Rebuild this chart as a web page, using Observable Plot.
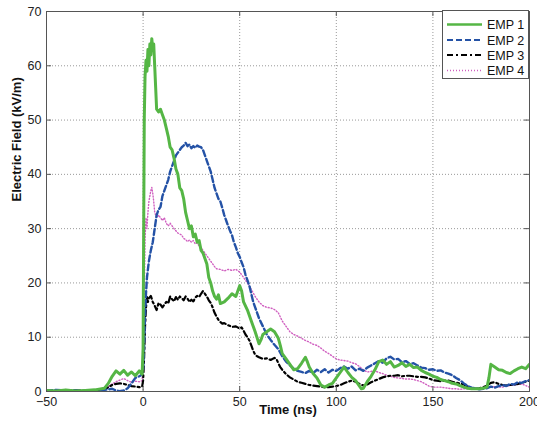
<!DOCTYPE html>
<html>
<head>
<meta charset="utf-8">
<script src="https://cdn.jsdelivr.net/npm/d3@7"></script>
<script src="https://cdn.jsdelivr.net/npm/@observablehq/plot@0.6"></script>
<style>
  html, body { margin: 0; padding: 0; background: white; }
  #wrap { position: relative; width: 537px; height: 423px; font-family: "Liberation Sans", Arial, sans-serif; }
  #legend { position: absolute; left: 442px; top: 10px; }
</style>
</head>
<body>
<div id="wrap"></div>
<script>
// ---- Data ----
const xTicks = [-50, 0, 50, 100, 150, 200];
const yTicks = [0, 10, 20, 30, 40, 50, 60, 70];
const seriesNames = ["EMP 1", "EMP 2", "EMP 3", "EMP 4"];

const emp1T = [-50,-45,-40,-35,-30,-25,-20,-18,-16,-14,-12,-10,-8,-6,-4,-2,-0.5,0,0.3,0.6,1,1.5,2,2.5,3,3.5,4,4.5,5,5.5,6,6.5,7,8,9,10,11,12,13,14,15,16,17,18,19,20,21,22,23,24,25,26,27,28,29,30,31,32,33,34,35,36,37,38,39,40,42,44,46,48,50,51,52,54,56,58,60,61,62,64,66,68,70,71,72,74,76,78,80,82,84,85,86,88,90,92,94,96,98,100,102,104,106,108,110,112,113,114,116,118,120,122,124,126,128,130,132,134,136,138,140,142,144,146,148,150,152,154,156,158,160,162,164,166,168,170,172,174,176,178,179,180,182,184,186,188,190,192,194,196,198,200];
const emp1V = [0.2,0.1,0.3,0.1,0.2,0.3,0.6,1.5,2.8,3.8,3.2,3.9,3.0,3.6,2.9,3.8,3.2,8,30,50,58,61,59,63,60,64,62,65,63,64,60,56,52,51.5,52,51,50,48.5,47,45,44.5,43,41,40,37.5,37,35.5,33,31.5,30,30.5,28.5,29,27.5,27.8,26,25.5,24.5,23.5,21,20,18.5,17.5,17,17.8,16.2,16.5,17.2,18,17.5,19.5,18.5,16.5,15,13,11,8.8,9.5,10.5,11,11.5,11,9.8,8.5,7,6,5,4,4.2,5.2,6.3,5.5,4.5,3.3,2.5,1.2,0.8,1.2,1.5,2.5,3.5,4.5,3.5,2.6,2,1,0.5,0.6,1.8,2.8,4,5.5,5.8,5,5.5,4.5,4.8,5.3,4.6,5,4.4,4.5,3.9,3.5,3.2,2.8,2.6,2.2,2,1.8,1.5,1.4,1.1,0.8,0.6,0.5,0.5,0.5,0.6,0.8,2.5,5,4.5,4,3.9,3.5,3.3,3.8,4.2,4.5,4.2,5];

const emp2T = [-50,-45,-40,-35,-30,-25,-20,-16,-14,-12,-10,-8,-6,-4,-2,-1,0,0.5,1,1.5,2,3,4,5,6,7,8,9,10,11,12,13,14,15,16,17,18,19,20,21,22,23,24,25,26,27,28,29,30,31,32,33,34,35,36,37,38,39,40,41,42,43,44,45,46,47,48,49,50,51,52,53,54,55,56,57,58,59,60,62,64,66,68,70,72,74,76,78,80,82,84,86,88,90,92,94,96,98,100,102,104,106,108,110,112,114,116,118,120,122,124,126,128,130,132,134,136,138,140,142,144,146,148,150,152,154,156,158,160,162,164,166,168,170,172,174,176,178,180,182,184,186,188,190,192,194,196,198,200];
const emp2V = [0.1,0.3,0.2,0.2,0.1,0.2,0.3,0.5,0.2,0.05,0.2,0.6,1.5,2.5,2.8,3,4,8,14,18,21,24,26,27.5,30,32.5,33.5,34,36,37,38,39,40.5,41.5,42.5,43.5,44,44.5,45,45.3,45.8,45.2,45.5,44.8,45.2,44.9,45.3,45.1,45,44.5,43.5,42.5,41.5,40.5,39,37.5,36.5,35.5,35,33.8,32.5,31.5,30.5,29.6,28.8,27.5,26.6,25.5,24.8,23.8,22.9,21.5,20.5,19.5,18,16.5,15.5,14.5,13.5,12,10.5,9.5,8.6,7.8,6.5,5.5,4.8,4.2,3.8,3.6,3.4,3.8,3.4,4,3.6,4.1,3.5,4,3.8,4.3,4.6,4.2,4.6,3.9,4.2,3.8,4.4,4.8,5.2,5.6,5.3,6.1,6.4,5.9,6,5.4,5.6,5.1,5.2,4.8,4.4,4.3,4,4.1,3.8,3.9,3.5,3.3,3,2.5,2.1,1.5,1,0.7,0.6,0.4,0.5,0.6,0.9,0.7,1,1.2,1,1.4,1.3,1.7,1.6,1.9,2.1];

const emp3T = [-50,-45,-40,-35,-30,-25,-20,-18,-16,-14,-12,-10,-8,-6,-4,-2,-0.5,0,0.5,1,1.5,2,2.5,3,4,5,6,7,8,9,10,11,12,13,14,15,16,17,18,19,20,21,22,23,24,25,26,27,28,29,30,31,32,33,34,35,36,37,38,39,40,41,42,44,46,48,50,51,52,53,54,55,56,57,58,59,60,62,64,66,68,69,70,71,72,74,76,78,80,82,84,86,88,90,92,94,96,98,100,102,104,106,108,110,112,114,116,118,120,122,124,126,128,130,132,134,136,138,140,142,144,146,148,150,152,154,156,158,160,162,164,166,168,170,172,174,176,178,180,182,184,186,188,190,192,194,196,198,200];
const emp3V = [0.1,0.2,0.1,0.2,0.1,0.2,0.4,0.8,1.2,1.4,1.5,1.4,1.2,1,0.9,0.8,0.9,2,6,12,15.5,17.4,16.5,17.2,17.6,16.5,15.8,15,16.3,16,15.5,16,16.5,16.2,17.5,17,16.6,17.4,16.9,17.5,17.2,16.8,17.5,17.1,16.5,16.9,16.6,17.3,17.6,17.4,18,18.5,18,17.5,16.8,16.3,15.5,14.5,13.8,13.2,12.8,12.5,12.6,12.2,11.9,12,11.6,11.8,11.2,10.5,10,9.4,8.5,7.5,6.8,6.5,6.3,6,6.1,5.8,6.2,6,5.2,4.5,4,3.2,2.6,2.2,1.8,1.6,1.4,1.2,1.1,1,0.9,0.8,0.8,0.9,1,1.2,1.5,1.8,2,1.8,1.4,1.1,1.3,1.7,2,2.3,2.6,2.8,2.9,2.9,3,2.8,2.9,2.9,2.8,2.7,2.7,2.6,2.4,2.1,2,1.9,2,2,1.8,1.6,1.5,1.3,0.9,0.6,0.5,0.6,0.8,1.1,1.6,1.7,1.4,1.2,1.1,1.2,1.3,1.4,1.6,1.8,2];

const emp4T = [-50,-45,-40,-35,-30,-25,-20,-18,-16,-14,-12,-10,-8,-6,-4,-2,-0.5,0,0.5,1,1.5,2,2.5,3,3.5,4,4.5,5,5.5,6,7,8,9,10,11,12,13,14,15,16,17,18,19,20,21,22,23,24,25,26,27,28,29,30,31,32,33,34,35,36,37,38,40,42,44,46,48,50,52,54,56,58,60,62,64,66,68,70,72,74,76,78,80,82,84,86,88,90,92,94,96,98,100,102,104,106,108,110,112,114,116,118,120,122,124,126,128,130,132,134,136,138,140,142,144,146,148,150,152,154,156,158,160,162,164,166,168,170,172,174,176,178,180,182,184,186,188,190,192,194,196,198,200];
const emp4V = [0.2,0.1,0.2,0.3,0.1,0.2,0.5,0.9,1.4,1.8,2.1,2.4,2.0,1.7,1.9,1.8,2,5,15,28,32,30,33,35,36,37,37.6,36.5,35,33,32,32.5,32,31.5,32,31,30.5,31,30.5,30,29.6,29.2,29,28.8,28.2,28,27.6,27.9,27.5,27.8,27.2,27.4,26.8,26.5,26,25.5,25,24.5,24,23.5,23,22.6,22.5,22.2,22.5,22.3,22.5,22,21,20,18.8,17.5,16.5,15.8,15.5,15.4,15.1,14.5,13,12,11,10.5,10.2,9.8,9.4,9.1,8.7,8.5,8,7.4,7,6.5,6,5.8,5.7,5.6,5.3,5.1,4.6,4,3.6,3.7,3.8,3.5,3.3,3,2.8,2.6,2.5,2.4,2.3,2.3,2.2,2,1.8,1.4,1,0.8,0.8,0.8,0.7,0.6,0.5,0.5,0.4,0.5,0.5,0.5,0.6,0.6,0.7,0.8,0.8,0.9,0.8,0.8,1,1.1,1.2,1.3,1.4,1.1,0.8];

// ---- Styles ----
const styles = [
  {stroke: "#55b645", strokeWidth: 3, dash: null, legendWidth: 2.4},
  {stroke: "#2452a6", strokeWidth: 2.4, dash: "6,3", legendWidth: 2.2},
  {stroke: "#000000", strokeWidth: 2.2, dash: "6,3,2,3", legendWidth: 2},
  {stroke: "#d060c0", strokeWidth: 1.4, dash: "1,2", legendWidth: 1.4}
];

const toRows = (T, V) => T.map((t, i) => ({t, v: V[i]}));
const series = [toRows(emp1T, emp1V), toRows(emp2T, emp2V), toRows(emp3T, emp3V), toRows(emp4T, emp4V)];

const W = 537, H = 423, mL = 46, mR = 8, mT = 11, mB = 32;
const pw = W - mL - mR, ph = H - mT - mB;

const chart = Plot.plot({
  width: W, height: H,
  marginLeft: mL, marginRight: mR, marginTop: mT, marginBottom: mB,
  style: {fontFamily: "'Liberation Sans', Arial, sans-serif", fontSize: "12.5px", background: "white", color: "#222"},
  x: {domain: [-50, 200]},
  y: {domain: [0, 70]},
  marks: [
    Plot.gridX(xTicks, {stroke: "#999", strokeOpacity: 1, strokeDasharray: "1,2"}),
    Plot.gridY(yTicks, {stroke: "#999", strokeOpacity: 1, strokeDasharray: "1,2"}),
    ...[3, 2, 1, 0].map(i => Plot.line(series[i], {
      x: "t", y: "v", stroke: styles[i].stroke, strokeWidth: styles[i].strokeWidth,
      strokeDasharray: styles[i].dash, strokeLinejoin: "round", clip: true
    })),
    Plot.frame({stroke: "#555", strokeWidth: 1}),
    Plot.tickX(xTicks, {x: d => d, stroke: "#555", insetTop: ph - 5}),
    Plot.tickX(xTicks, {x: d => d, stroke: "#555", insetBottom: ph - 5}),
    Plot.tickY(yTicks, {y: d => d, stroke: "#555", insetRight: pw - 5}),
    Plot.tickY(yTicks, {y: d => d, stroke: "#555", insetLeft: pw - 5}),
    Plot.axisX(xTicks, {tickSize: 0, tickPadding: 6, label: null, fill: "#222"}),
    Plot.axisY(yTicks, {tickSize: 0, tickPadding: 5, label: null, fill: "#222"}),
    Plot.text(["Time (ns)"], {frameAnchor: "bottom", dy: 22, fontWeight: "bold", fontSize: 13, fill: "#111"}),
    Plot.text(["Electric Field (kV/m)"], {frameAnchor: "left", rotate: -90, dx: -30, fontWeight: "bold", fontSize: 13, fill: "#111"})
  ]
});

const wrap = document.getElementById("wrap");
wrap.appendChild(chart);

// ---- Legend ----
const lg = document.createElementNS("http://www.w3.org/2000/svg", "svg");
lg.setAttribute("id", "legend");
lg.setAttribute("width", 87);
lg.setAttribute("height", 69);
const rowsY = [14.5, 30, 45, 60.5];
let inner = `<rect x="0.5" y="0.5" width="86" height="68" fill="white" stroke="#555"/>`;
seriesNames.forEach((name, i) => {
  const s = styles[i];
  inner += `<line x1="5" x2="40" y1="${rowsY[i]}" y2="${rowsY[i]}" stroke="${s.stroke}" stroke-width="${s.legendWidth}" ${s.dash ? `stroke-dasharray="${s.dash}"` : ""}/>`;
  inner += `<text x="45" y="${rowsY[i]}" dy="0.36em" font-family="'Liberation Sans', Arial, sans-serif" font-size="12.5" fill="#111">${name}</text>`;
});
lg.innerHTML = inner;
wrap.appendChild(lg);
</script>
</body>
</html>
